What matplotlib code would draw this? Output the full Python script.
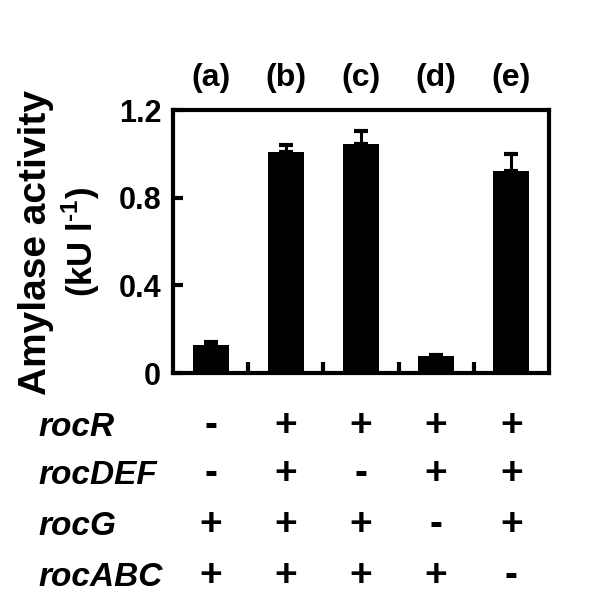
import matplotlib
matplotlib.use("Agg")
import matplotlib.pyplot as plt
import matplotlib.transforms as mtransforms

plt.rcParams["font.family"] = ["Liberation Sans", "DejaVu Sans"]
plt.rcParams["font.weight"] = "bold"
plt.rcParams["mathtext.fontset"] = "custom"
plt.rcParams["mathtext.rm"] = "Liberation Sans:bold"
plt.rcParams["mathtext.bf"] = "Liberation Sans:bold"

panels = ["(a)", "(b)", "(c)", "(d)", "(e)"]
activity = [0.13, 1.01, 1.045, 0.077, 0.923]
err_up = [0.01, 0.03, 0.06, 0.006, 0.077]
genes = ["rocR", "rocDEF", "rocG", "rocABC"]
presence = [
    ["-", "+", "+", "+", "+"],
    ["-", "+", "-", "+", "+"],
    ["+", "+", "+", "-", "+"],
    ["+", "+", "+", "+", "-"],
]
yticks = [0, 0.4, 0.8, 1.2]
ytick_labels = ["0", "0.4", "0.8", "1.2"]

fig = plt.figure(figsize=(6.0, 6.1), dpi=100)
ax = fig.add_axes([0.2883, 0.3885, 0.6267, 0.4311])

x = list(range(len(panels)))
ax.bar(x, activity, width=0.48, color="black",
       yerr=[[0] * len(err_up), err_up], capsize=4.7,
       error_kw=dict(ecolor="black", elinewidth=2.2, capthick=3))

ax.set_xlim(-0.5, 4.5)
ax.set_ylim(0, 1.2)
ax.set_yticks(yticks)
ax.set_yticklabels(ytick_labels, fontsize=22, fontweight="bold")
ax.set_xticks([0.5, 1.5, 2.5, 3.5])
ax.set_xticklabels([])
ax.tick_params(axis="y", direction="in", length=7, width=3, pad=8.5)
ax.tick_params(axis="x", direction="in", length=8, width=3)
for s in ax.spines.values():
    s.set_linewidth(3)

# y label, two lines
fig.text(36 / 600, 1 - 243 / 610, "Amylase activity", rotation=90,
         ha="center", va="center", fontsize=28, fontweight="bold")
fig.text(81 / 600, 1 - 242 / 610, "(kU l$^{\\text{-1}}$)", rotation=90,
         ha="center", va="center", fontsize=25, fontweight="bold")

for xi, p in zip(x, panels):
    ax.text(xi, 1.091, p, transform=ax.get_xaxis_transform(), ha="center",
            va="baseline", fontsize=23, fontweight="bold")

label_tr = mtransforms.blended_transform_factory(fig.transFigure, ax.transAxes)
row_y = [-0.2395, -0.422, -0.616, -0.810]
for gene, ry, row in zip(genes, row_y, presence):
    fig.text(38 / 600, ry, gene, ha="left", va="baseline", fontsize=24,
             fontweight="bold", style="italic", transform=label_tr)
    for xi, sym in zip(x, row):
        ax.text(xi, ry, sym, transform=ax.get_xaxis_transform(), ha="center",
                va="baseline", fontsize=28, fontweight="bold")

fig.savefig("out.png", dpi=100)
